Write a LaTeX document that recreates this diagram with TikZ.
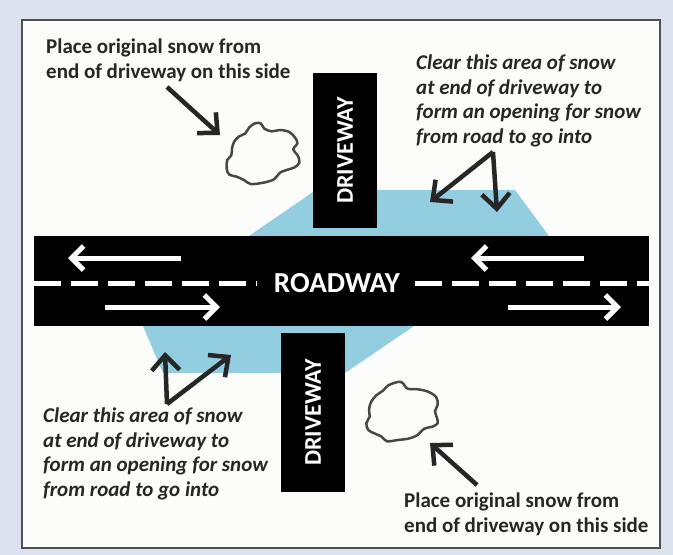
\documentclass[tikz,border=0pt]{standalone}
\usepackage{fontspec}
\setmainfont{Carlito}
\usetikzlibrary{arrows.meta}
\definecolor{bgl}{HTML}{DCE1EF}
\definecolor{paper}{HTML}{FCFCFA}
\definecolor{snowblue}{HTML}{92CEE0}
\definecolor{ink}{HTML}{262626}
\definecolor{frame}{HTML}{505050}
\definecolor{cloudline}{HTML}{474747}
\begin{document}
\begin{tikzpicture}[x=1pt,y=-1pt,
  roadbox/.style={fill=black,draw=none,inner sep=0pt,rectangle},
  drivebox/.style={fill=black,draw=none,inner sep=0pt,rectangle,minimum width=64pt},
  whitelabel/.style={text=white,font=\fontsize{24}{28}\selectfont\bfseries,inner sep=0pt},
  centerdash/.style={draw=white,line width=5pt,dash pattern=on 27pt off 10pt},
  roadarrow/.style={draw=white,line width=5pt,-{Straight Barb[length=12pt,width=24pt]}},
  pointer/.style={draw=ink,line width=4.5pt,-{Straight Barb[length=15pt,width=28pt]}},
  note/.style={text=ink,font=\fontsize{21}{25}\selectfont\bfseries,align=left,inner sep=0pt,anchor=north west},
  inote/.style={text=ink,font=\fontsize{21}{24.5}\selectfont\bfseries\itshape,align=left,inner sep=0pt,anchor=north west},
  snowpile/.style={draw=cloudline,line width=2.5pt,fill=paper,line join=round}
]
\useasboundingbox (0,0) rectangle (673,555);
\fill[bgl] (0,0) rectangle (673,555);
\draw[fill=paper,draw=frame,line width=1.5pt] (22,20) rectangle (660,548);

% cleared area
\fill[snowblue] (249,236) -- (316,190) -- (515,190) -- (549,236) -- (549,300)
  -- (414,326) -- (345,373) -- (163,373) -- (143,326) -- (143,300) -- cycle;

% road and driveways
\node[roadbox,minimum width=615pt,minimum height=90pt] (road) at (341.5,281) {};
\node[drivebox,minimum height=155pt] (drive1) at (345,150.5) {};
\node[drivebox,minimum height=159pt] (drive2) at (313,412.5) {};
\node[whitelabel,rotate=90] (dlab1) at (drive1.center) {DRIVEWAY};
\node[whitelabel,rotate=90] (dlab2) at (drive2.center) {DRIVEWAY};

% center line
\coordinate (cl1) at (34,283);
\coordinate (cl2) at (257,283);
\coordinate (cr1) at (415,283);
\coordinate (cr2) at (649,283);
\draw[centerdash] (cl1) -- (cl2);
\draw[centerdash] (cr1) -- (cr2);
\node[text=white,font=\fontsize{29}{32}\selectfont\bfseries,inner sep=0pt] (roadlab) at (337,283) {ROADWAY};

% lane arrows
\coordinate (la1s) at (181,258); \coordinate (la1e) at (68,258);
\coordinate (la2s) at (105,307); \coordinate (la2e) at (220,307);
\coordinate (la3s) at (584,258); \coordinate (la3e) at (471,258);
\coordinate (la4s) at (508,307); \coordinate (la4e) at (621,307);
\draw[roadarrow] (la1s) -- (la1e);
\draw[roadarrow] (la2s) -- (la2e);
\draw[roadarrow] (la3s) -- (la3e);
\draw[roadarrow] (la4s) -- (la4e);

% snow piles
\begin{scope}[shift={(210,110)},scale=1/3]
\draw[snowpile] plot[smooth cycle,tension=0.55] coordinates {
 (118,52) (135,40) (152,40) (163,56) (185,64) (210,60) (238,66) (256,84)
 (262,100) (250,118) (264,138) (268,158) (254,172) (236,178) (210,188)
 (192,208) (160,218) (122,222) (102,210) (80,200) (58,194) (50,176)
 (52,150) (64,136) (66,116) (72,96) (86,80) (106,70)};
\coordinate (pile1) at (150,130);
\end{scope}
\begin{scope}[shift={(355,370)},scale=1/3]
\draw[snowpile] plot[smooth cycle,tension=0.55] coordinates {
 (100,46) (128,36) (142,38) (158,56) (190,58) (222,66) (244,82) (248,104)
 (240,124) (246,144) (248,160) (232,170) (208,176) (186,196) (160,206)
 (128,210) (96,214) (80,200) (58,190) (40,180) (34,160) (44,140) (42,120)
 (48,96) (64,76) (84,62)};
\coordinate (pile2) at (140,125);
\end{scope}

% texts
\node[note] (t1) at (46,39) {Place original snow from\\end of driveway on this side};
\node[inote] (t2) at (416,55) {Clear this area of snow\\at end of driveway to\\form an opening for snow\\from road to go into};
\node[inote] (t3) at (43,408) {Clear this area of snow\\at end of driveway to\\form an opening for snow\\from road to go into};
\node[note] (t4) at (404,493) {Place original snow from\\end of driveway on this side};

% pointers
\coordinate (p1s) at (167,87);  \coordinate (p1e) at (220,135);
\coordinate (p2a) at (493,152); \coordinate (p2e) at (430,202); \coordinate (p2f) at (497,212);
\coordinate (p3a) at (167,404); \coordinate (p3e) at (165,352); \coordinate (p3f) at (231,355);
\coordinate (p4s) at (477,485); \coordinate (p4e) at (430,443);
\draw[pointer] (p1s) -- (p1e);
\draw[pointer] (p2a) -- (p2e);
\draw[pointer] (p2a) -- (p2f);
\draw[pointer] (p3a) -- (p3e);
\draw[pointer] (p3a) -- (p3f);
\draw[pointer] (p4s) -- (p4e);
\end{tikzpicture}
\end{document}
